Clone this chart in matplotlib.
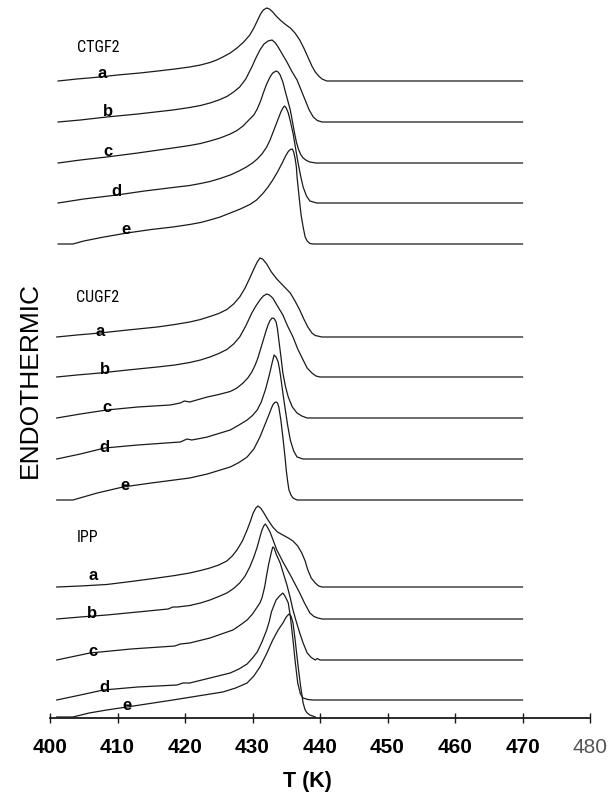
import matplotlib
matplotlib.use("Agg")
import matplotlib.pyplot as plt

# ---- DSC melting endotherms: temperature (K) and heat-flow signal (arb. units) ----
# CTGF2 samples a-e
ctgf2_a_T = [401.2, 404.0, 407.4, 410.0, 413.3, 416.0, 418.5, 420.7, 422.3, 423.7, 424.7, 425.6, 426.7, 427.7, 428.7, 429.6, 430.2, 430.7, 431.2, 431.6, 432.1, 432.5, 433.0, 433.5, 434.1, 434.8, 435.6, 436.3, 437.0, 437.6, 438.2, 438.8, 439.3, 439.8, 440.3, 441.0, 470]
ctgf2_a_q = [0, 2, 4, 6, 8, 10, 12, 14, 16, 18.5, 21, 24, 28, 33, 39, 46, 53, 60, 67, 71, 73, 72, 69, 65, 61, 57, 53, 48, 41, 33, 24, 15, 9, 5, 2, 0, 0]
ctgf2_b_T = [401.2, 404.5, 408.4, 413.0, 418.2, 420.7, 422.3, 423.7, 425.0, 426.2, 427.2, 428.1, 429.0, 429.9, 430.5, 431.1, 431.7, 432.3, 432.9, 433.4, 433.8, 434.4, 435.1, 435.8, 436.6, 437.2, 437.8, 438.4, 439.0, 439.6, 440.3, 470]
ctgf2_b_q = [0, 2, 5, 8, 12, 14.5, 16.5, 19, 22, 25.5, 30, 35, 43, 55, 64, 72, 78, 81, 82, 79, 75, 68, 60, 51, 42, 32, 22, 12, 5, 1.5, 0, 0]
ctgf2_c_T = [401.2, 404.5, 408.4, 413.0, 418.2, 420.7, 422.3, 423.7, 425.2, 426.7, 427.7, 428.6, 429.6, 430.2, 430.7, 431.2, 431.6, 432.1, 432.6, 433.0, 433.5, 433.8, 434.1, 434.5, 434.8, 435.2, 435.6, 435.9, 436.2, 436.5, 436.8, 437.1, 437.5, 438.0, 438.5, 439.4, 470]
ctgf2_c_q = [0, 3, 6, 10, 15, 17.5, 19.5, 22, 25, 29, 32.5, 37, 44, 48, 54, 62, 70, 79, 86, 90, 92, 91, 88, 81, 73, 63, 53, 42, 31, 21, 14, 9, 5, 2.5, 1, 0, 0]
ctgf2_d_T = [401.2, 405.0, 409.9, 414.0, 418.2, 420.7, 422.3, 423.7, 425.2, 426.7, 428.0, 429.1, 430.0, 430.7, 431.4, 432.1, 432.6, 433.0, 433.4, 433.8, 434.2, 434.5, 434.75, 435.0, 435.3, 435.6, 436.0, 436.3, 436.7, 437.1, 437.5, 438.0, 438.5, 439.5, 470]
ctgf2_d_q = [0, 4, 8, 12, 15.5, 17.5, 19.5, 21.5, 24.5, 28, 32, 36, 40, 44, 49, 56, 63, 70, 77, 84, 91, 95, 97, 95, 90, 82, 70, 58, 42, 28, 16, 7, 2, 0, 0]
ctgf2_e_T = [401.2, 403.4, 405.0, 408.0, 411.4, 415.0, 418.2, 420.7, 422.3, 423.7, 425.2, 426.7, 428.2, 429.6, 430.6, 431.6, 432.3, 433.0, 433.7, 434.4, 434.9, 435.3, 435.6, 435.9, 436.1, 436.3, 436.5, 436.6, 436.8, 437.0, 437.2, 437.5, 437.8, 438.1, 438.5, 439.0, 470]
ctgf2_e_q = [0, 0, 3, 7, 11, 14.5, 17, 19.5, 21.5, 24, 27, 31, 35, 39.5, 44, 51, 57, 64, 72, 81, 88, 92.5, 94.5, 95, 92, 86, 77, 67, 54, 41, 29, 17, 7, 3, 0.5, 0, 0]

# CUGF2 samples a-e
cugf2_a_T = [401.0, 404.0, 407.4, 411.5, 415.9, 418.5, 420.7, 422.3, 423.7, 425.0, 426.2, 427.2, 428.1, 428.9, 429.6, 430.2, 430.7, 431.1, 431.5, 432.1, 432.8, 433.6, 434.6, 435.6, 436.3, 437.0, 437.6, 438.2, 438.8, 439.3, 440.3, 470]
cugf2_a_q = [0, 2, 4, 7, 10, 12.5, 15, 17.5, 20.5, 23.5, 27.5, 33, 40, 49, 59, 68, 75, 79, 78, 73, 65, 58, 51, 44, 36, 27, 18, 10, 4, 1.5, 0, 0]
cugf2_b_T = [401.0, 404.0, 407.4, 411.5, 415.9, 418.5, 420.7, 422.3, 423.7, 425.0, 426.2, 427.2, 428.1, 429.0, 429.9, 430.5, 431.1, 431.6, 432.1, 432.5, 433.0, 433.7, 434.5, 435.2, 436.0, 436.7, 437.5, 438.1, 438.8, 439.4, 440.0, 470]
cugf2_b_q = [0, 2, 4, 7, 10, 12, 14.5, 17, 20, 23.5, 27.5, 33, 40, 51, 64, 71, 77, 81, 83, 82, 79, 71, 62, 51, 40, 28, 17, 9, 4, 1, 0, 0]
cugf2_c_T = [401.0, 404.5, 408.4, 413.0, 417.8, 419.3, 419.9, 420.7, 422.0, 423.3, 425.0, 426.7, 427.7, 428.6, 429.3, 429.9, 430.4, 430.8, 431.2, 431.6, 432.0, 432.3, 432.6, 432.9, 433.2, 433.5, 433.7, 433.9, 434.2, 434.5, 434.9, 435.3, 435.9, 436.6, 437.3, 438.1, 470]
cugf2_c_q = [0, 4, 8, 11, 13, 15, 17, 16, 18.5, 21, 23.5, 26.5, 30, 35, 40, 46, 53, 60, 69, 78, 87, 93, 97.5, 100, 99.5, 96, 89, 78, 62, 45, 31, 21, 11, 5, 2, 0, 0]
cugf2_d_T = [401.0, 404.5, 408.1, 413.0, 419.3, 420.3, 421.0, 422.2, 423.3, 425.0, 426.7, 428.0, 429.2, 430.0, 430.7, 431.3, 431.9, 432.3, 432.6, 432.9, 433.2, 433.5, 433.8, 434.0, 434.2, 434.5, 434.8, 435.2, 435.6, 436.1, 436.6, 437.5, 470]
cugf2_d_q = [0, 5, 11, 14, 17, 20, 19, 20.5, 22, 25.5, 29, 34, 39, 43.5, 49, 57, 69, 79, 87, 96, 104, 102, 97, 90, 81, 66, 52, 34, 19, 8, 2, 0, 0]
cugf2_e_T = [401.0, 403.4, 407.0, 410.8, 415.0, 420.7, 422.0, 423.3, 425.0, 426.7, 428.0, 429.2, 430.2, 431.1, 431.7, 432.3, 432.7, 433.0, 433.3, 433.5, 433.7, 433.9, 434.2, 434.5, 434.8, 435.0, 435.2, 435.4, 435.7, 436.0, 436.6, 470]
cugf2_e_q = [0, 0, 7, 13, 17, 22, 24, 26, 29.5, 33, 37.5, 43, 51, 63, 73, 83, 90, 95, 97.5, 98, 97, 93, 80, 63, 44, 30, 19, 10, 5, 2, 0, 0]

# IPP samples a-e
ipp_a_T = [401.0, 404.5, 408.4, 412.0, 415.9, 418.5, 420.7, 422.3, 423.7, 425.0, 426.2, 427.0, 427.7, 428.5, 429.2, 429.7, 430.1, 430.5, 430.8, 431.2, 431.6, 432.3, 433.0, 433.7, 434.5, 435.3, 436.0, 436.7, 437.3, 437.8, 438.2, 438.7, 439.3, 439.8, 440.3, 470]
ipp_a_q = [0, 1, 2.5, 5.5, 9, 11.5, 14, 16.5, 19, 22, 26, 31, 37, 46, 57, 66, 74, 79, 81, 79, 75, 67, 60, 55, 52, 49, 46, 41, 34, 26, 17, 9, 4, 1, 0, 0]
ipp_b_T = [401.0, 404.5, 408.4, 413.0, 417.5, 418.2, 418.9, 420.7, 422.3, 423.7, 425.0, 426.2, 427.2, 428.1, 428.9, 429.6, 430.2, 430.7, 431.1, 431.4, 431.7, 431.9, 432.2, 432.6, 433.1, 433.6, 434.6, 435.6, 436.3, 437.0, 437.7, 438.5, 439.1, 439.7, 440.3, 470]
ipp_b_q = [0, 2, 4, 7, 10, 12, 12, 13.5, 16, 19, 22.5, 26, 30.5, 36, 43, 52, 62, 72, 82, 89, 93.5, 95, 92, 87, 78, 69, 56, 44, 35, 26, 16, 6, 2.5, 1, 0, 0]
ipp_c_T = [401.0, 405.9, 412.0, 418.5, 419.3, 420.7, 422.2, 423.7, 425.4, 427.1, 428.2, 429.2, 430.0, 430.7, 431.1, 431.4, 431.8, 432.1, 432.4, 432.6, 432.8, 433.0, 433.2, 433.5, 434.1, 434.6, 435.1, 435.6, 436.0, 436.5, 437.0, 437.5, 438.1, 438.7, 439.3, 439.6, 440.0, 470]
ipp_c_q = [0, 7, 11, 14, 16, 17, 19.5, 22, 26, 30, 35, 40, 46, 53, 57, 62, 73, 85, 96, 102, 108, 113, 112, 106, 97, 86, 75, 62, 50, 38, 27, 17, 7, 2.5, 0, 1.5, 0, 0]
ipp_d_T = [401.0, 404.5, 407.9, 413.0, 418.8, 419.7, 420.7, 422.2, 423.7, 425.2, 426.7, 428.0, 429.2, 430.0, 430.7, 431.4, 432.1, 432.5, 432.8, 433.2, 433.5, 434.0, 434.5, 434.8, 435.1, 435.3, 435.6, 436.0, 436.3, 436.7, 437.1, 437.5, 438.2, 439.0, 470]
ipp_d_q = [0, 5, 10, 13, 15, 17, 17, 19.5, 22, 24.5, 27, 31, 36, 42, 48, 58, 70, 79, 88, 95, 100, 104, 107, 104, 100, 97, 84, 60, 40, 17, 6, 2, 0.5, 0, 0]
ipp_e_T = [401.0, 403.4, 405.8, 408.4, 411.4, 414.8, 418.2, 421.9, 425.6, 427.5, 429.2, 430.2, 431.1, 432.0, 433.0, 433.8, 434.5, 435.0, 435.4, 435.7, 436.0, 436.3, 436.7, 437.1, 437.5, 437.8, 438.1, 438.5, 439.3]
ipp_e_q = [0, 0, 4, 7, 10, 13.5, 17, 21, 25, 29, 34, 41, 50, 62, 77, 87, 94, 100, 103, 101, 94, 78, 54, 32, 14, 7, 4, 2, 0]

sample_letters = ["a", "b", "c", "d", "e"]
group_names = ["CTGF2", "CUGF2", "IPP"]
x_ticks = [400, 410, 420, 430, 440, 450, 460, 470, 480]

groups = [
    [(ctgf2_a_T, ctgf2_a_q), (ctgf2_b_T, ctgf2_b_q), (ctgf2_c_T, ctgf2_c_q), (ctgf2_d_T, ctgf2_d_q), (ctgf2_e_T, ctgf2_e_q)],
    [(cugf2_a_T, cugf2_a_q), (cugf2_b_T, cugf2_b_q), (cugf2_c_T, cugf2_c_q), (cugf2_d_T, cugf2_d_q), (cugf2_e_T, cugf2_e_q)],
    [(ipp_a_T, ipp_a_q), (ipp_b_T, ipp_b_q), (ipp_c_T, ipp_c_q), (ipp_d_T, ipp_d_q), (ipp_e_T, ipp_e_q)],
]

# vertical stacking offsets of each trace
offsets = [
    [637, 596, 555, 515, 474],
    [381, 341, 300, 259, 218],
    [131, 99, 58, 18, 1],
]
# annotation positions (T, stacked signal)
group_label_pos = [(407.1, 670), (407.1, 421), (405.6, 180)]
letter_pos = [
    [(407.7, 644), (408.6, 606), (408.6, 566), (409.9, 526), (411.3, 489)],
    [(407.4, 386), (408.1, 349), (408.4, 311), (408.1, 271), (411.1, 232)],
    [(406.4, 142), (406.2, 104), (406.4, 66), (408.1, 30), (411.4, 13)],
]

narrow = ["Roboto Condensed", "Liberation Sans Narrow", "Liberation Sans", "DejaVu Sans"]
sans = ["Liberation Sans", "DejaVu Sans"]

fig = plt.figure(figsize=(6.13, 7.96), dpi=100)
ax = fig.add_axes([50 / 613, 78 / 796, 540 / 613, 718 / 796])

for g, traces in enumerate(groups):
    for k, (T, q) in enumerate(traces):
        ax.plot(T, [v + offsets[g][k] for v in q], color="#1a1a1a", lw=0.9,
                solid_joinstyle="round", clip_on=False)
        lx, ly = letter_pos[g][k]
        ax.text(lx, ly, sample_letters[k], fontsize=12, fontweight="bold",
                family=sans, ha="center", va="center")
    gx, gy = group_label_pos[g]
    ax.text(gx, gy, group_names[g], fontsize=11.5, family=narrow,
            ha="center", va="center")

ax.set_xlim(400, 480)
ax.set_ylim(0, 718)
for side in ["left", "right", "top"]:
    ax.spines[side].set_visible(False)
ax.spines["bottom"].set_linewidth(1.3)
ax.spines["bottom"].set_color("#1a1a1a")
ax.set_yticks([])
ax.set_xticks(x_ticks)
ax.set_xticklabels([str(t) for t in x_ticks])
ax.tick_params(axis="x", direction="inout", length=7, width=1.0, pad=11, color="#1a1a1a")
for i, lab in enumerate(ax.get_xticklabels()):
    lab.set_family(sans)
    lab.set_fontsize(15)
    if i == len(x_ticks) - 1:
        lab.set_fontweight("normal")
        lab.set_color("#555555")
    else:
        lab.set_fontweight("bold")

fig.text(307 / 613, 1 - 781 / 796, "T (K)", fontsize=15.5, fontweight="bold",
         family=sans, ha="center", va="center")
fig.text(30 / 613, 1 - 380 / 796, "ENDOTHERMIC", fontsize=19, rotation=90,
         family=sans, ha="center", va="center")

fig.savefig("out.png", dpi=100)
